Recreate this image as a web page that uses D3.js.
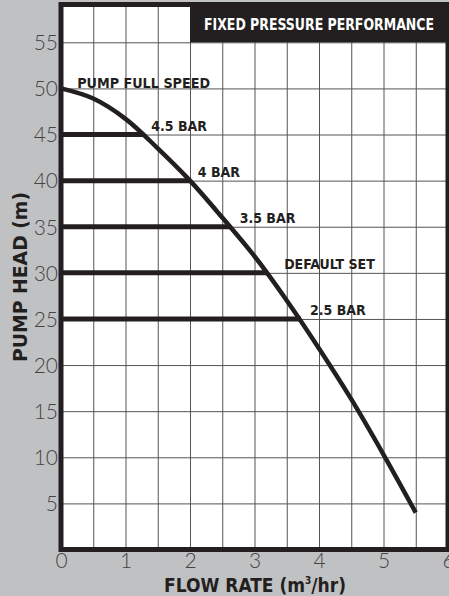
<!DOCTYPE html>
<html>
<head>
<meta charset="utf-8">
<script src="https://cdn.jsdelivr.net/npm/d3@7"></script>
<style>
  html, body { margin: 0; padding: 0; background: #c0c1c3; }
  svg { display: block; }
  .tick-label { font-family: Lato, "DejaVu Sans", sans-serif; font-weight: 300; fill: #444; }
  .bold { font-family: "DejaVu Sans Condensed", "DejaVu Sans", sans-serif; font-weight: bold; }
</style>
</head>
<body>
<svg id="chart" width="449" height="596"></svg>
<script>
// 数据 —— 泵性能曲线
const flowRate = [0, 0.5, 1, 1.5, 2, 2.5, 3, 3.5, 4, 4.5, 5, 5.5];
const pumpHead = [50, 48.9, 46.7, 43.5, 40, 36, 31.8, 27, 21.8, 16.3, 10.3, 4];

// 定压线
const setLabels = ['4.5 BAR', '4 BAR', '3.5 BAR', 'DEFAULT SET', '2.5 BAR'];
const setHeads = [45, 40, 35, 30, 25];
const setFlows = [1.27, 2.0, 2.62, 3.21, 3.72];
const setLabelFlows = [1.4, 2.12, 2.77, 3.46, 3.86];

const xTicks = [0, 1, 2, 3, 4, 5, 6];
const yTicks = [5, 10, 15, 20, 25, 30, 35, 40, 45, 50, 55];
const xGrid = d3.range(0.5, 6, 0.5);

const svg = d3.select('#chart');
const x = d3.scaleLinear().domain([0, 6]).range([61, 448]);
const y = d3.scaleLinear().domain([0, 59.1]).range([549.5, 4.5]);

// 白色绘图区
svg.append('rect')
    .attr('x', x(0)).attr('y', y(59.1))
    .attr('width', x(6) - x(0)).attr('height', y(0) - y(59.1))
    .attr('fill', '#fff');

// 网格
svg.append('g')
    .attr('transform', `translate(0,${y(0)})`)
    .call(d3.axisBottom(x).tickValues(xGrid).tickSize(-(y(0) - y(59.1))).tickFormat(''))
    .call(g => g.select('.domain').remove())
    .call(g => g.selectAll('line').attr('stroke', '#555').attr('stroke-width', 1));

svg.append('g')
    .attr('transform', `translate(${x(0)},0)`)
    .call(d3.axisLeft(y).tickValues(yTicks).tickSize(-(x(6) - x(0))).tickFormat(''))
    .call(g => g.select('.domain').remove())
    .call(g => g.selectAll('line').attr('stroke', '#555').attr('stroke-width', 1));

// 标题框
svg.append('rect')
    .attr('x', x(2)).attr('y', y(59.1))
    .attr('width', x(6) - x(2)).attr('height', y(55) - y(59.1))
    .attr('fill', '#231f20');
svg.append('text')
    .attr('class', 'bold')
    .attr('x', (x(2) + x(6)) / 2).attr('y', 30)
    .attr('text-anchor', 'middle')
    .attr('font-size', 15)
    .attr('fill', '#fff')
    .attr('textLength', 230).attr('lengthAdjust', 'spacingAndGlyphs')
    .text('FIXED PRESSURE PERFORMANCE');

// 定压横线
svg.selectAll('.set-line')
    .data(setHeads)
    .enter()
    .append('line')
    .attr('x1', x(0)).attr('x2', (d, i) => x(setFlows[i]))
    .attr('y1', d => y(d)).attr('y2', d => y(d))
    .attr('stroke', '#231f20').attr('stroke-width', 5);

// 性能曲线
const pts = flowRate.map((q, i) => [q, pumpHead[i]]);
svg.append('path')
    .datum(pts)
    .attr('d', d3.line().x(d => x(d[0])).y(d => y(d[1])).curve(d3.curveCatmullRom))
    .attr('fill', 'none')
    .attr('stroke', '#231f20')
    .attr('stroke-width', 4.5);

// 标签
svg.append('text')
    .attr('class', 'bold')
    .attr('x', x(0.25)).attr('y', 88)
    .attr('font-size', 14).attr('fill', '#231f20')
    .attr('textLength', 133).attr('lengthAdjust', 'spacingAndGlyphs')
    .text('PUMP FULL SPEED');

svg.selectAll('.set-label')
    .data(setLabels)
    .enter()
    .append('text')
    .attr('class', 'bold')
    .attr('x', (d, i) => x(setLabelFlows[i]))
    .attr('y', (d, i) => y(setHeads[i]) - 4)
    .attr('font-size', 14).attr('fill', '#231f20')
    .text(d => d);

// 外框
svg.append('path')
    .attr('d', `M${x(0)},${y(59.1)} L${x(6)},${y(59.1)} L${x(6)},${y(0)} L${x(0)},${y(0)} Z`)
    .attr('fill', 'none')
    .attr('stroke', '#231f20')
    .attr('stroke-width', 5);

// 刻度标签
svg.append('g')
    .attr('transform', `translate(${x(0) - 3},0)`)
    .call(d3.axisLeft(y).tickValues(yTicks).tickSize(0).tickPadding(0))
    .call(g => g.select('.domain').remove())
    .call(g => g.selectAll('text').attr('class', 'tick-label').attr('font-size', 21).attr('dy', '0.35em'));

svg.append('g')
    .attr('transform', `translate(0,${y(0) + 3})`)
    .call(d3.axisBottom(x).tickValues(xTicks).tickSize(0).tickPadding(0).tickFormat(d3.format('d')))
    .call(g => g.select('.domain').remove())
    .call(g => g.selectAll('text').attr('class', 'tick-label').attr('font-size', 21).attr('dy', '0.75em'));

// 轴标题
svg.append('text')
    .attr('class', 'bold')
    .attr('transform', 'translate(27,277) rotate(-90)')
    .attr('text-anchor', 'middle')
    .attr('font-size', 19).attr('fill', '#231f20')
    .attr('textLength', 170).attr('lengthAdjust', 'spacingAndGlyphs')
    .text('PUMP HEAD (m)');

const xt = svg.append('text')
    .attr('class', 'bold')
    .attr('x', 255).attr('y', 592)
    .attr('text-anchor', 'middle')
    .attr('font-size', 19).attr('fill', '#231f20');
xt.append('tspan').text('FLOW RATE (m');
xt.append('tspan').attr('font-size', 10).attr('dy', -8).text('3');
xt.append('tspan').attr('dy', 8).text('/hr)');
</script>
</body>
</html>
